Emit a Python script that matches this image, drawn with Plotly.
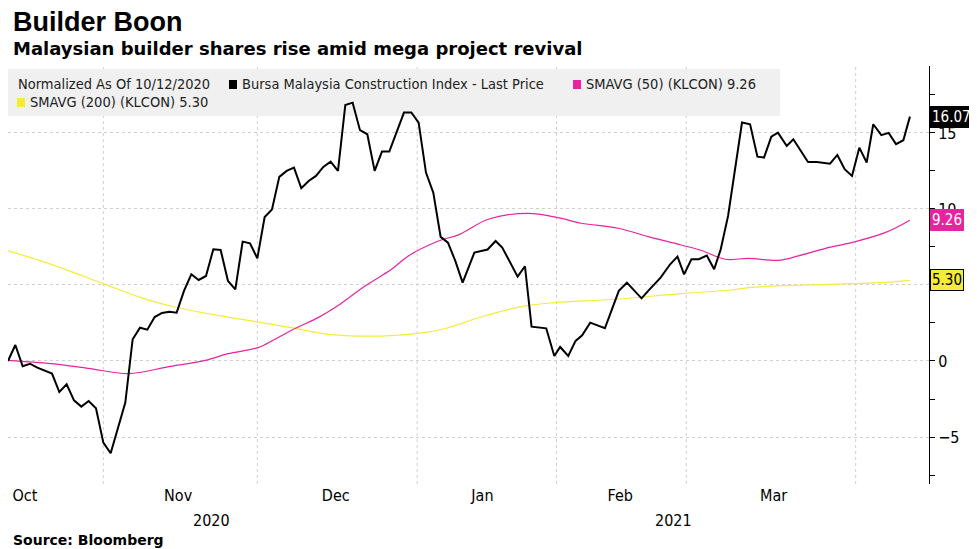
import plotly.graph_objects as go

# trading-day index, values (normalized %)
price_x = [0,1,2,3,4,6,7,8,9,10,11,12,13,14,16,17,18,19,20,21,22,23,24,25,26,27,28,29,30,31,32,33,34,35,36,37,38,39,40,41,42,43,44,45,46,47,48,49,50,51,52,54,55,56,57,58,59,60,61,62,
           63.6,65.4,66.5,67.4,69.5,70.5,71.4,73.4,74.5,75.3,76.4,77.4,78.3,79.4,81.4,83.3,84.4,86.4,87.3,89.0,90.3,91.3,92.2,93.2,94.2,95.3,96.3,97.2,98.2,100.1,101.2,102.2,103.1,104.1,105.0,106.2,107.1,109.1,110.3,112.1,113.1,114.1,115.1,116.1,117.1,118.0,119.1,120.1,121.1,122.1,123.0]
price_y = [0.00,1.05,-0.35,-0.18,-0.44,-0.83,-2.04,-1.53,-2.59,-3.00,-2.63,-3.11,-5.37,-6.07,-2.74,1.43,2.19,2.06,2.89,3.16,3.24,3.18,4.61,5.70,5.33,5.59,7.35,7.30,5.26,4.71,7.85,7.74,6.75,9.47,9.96,12.11,12.50,12.72,11.36,11.84,12.17,12.76,13.11,12.50,16.84,16.99,15.18,14.91,12.50,13.77,13.77,16.34,16.34,15.68,12.39,11.07,8.16,7.78,6.58,5.15,
           7.13,7.33,7.89,7.46,5.55,6.23,2.26,2.15,0.33,0.92,0.33,1.32,1.69,2.52,2.15,4.61,5.15,4.12,4.61,5.48,6.36,6.86,5.70,6.69,6.69,6.93,6.03,7.35,9.54,15.68,15.57,13.44,13.38,14.76,15.02,14.14,14.58,13.09,13.09,12.98,13.55,12.61,12.17,14.03,13.05,15.57,14.85,15.00,14.26,14.52,16.07]

sma50_x = [0,5.9,10.9,16.4,21.8,26.9,30.0,34.1,36.4,39.2,42.3,44.6,48.7,52.3,54.6,58.7,61.6,65.5,70.9,75.0,78.2,83.2,87.3,91.8,94.5,97.8,101.0,105.0,107.8,111.5,115.0,119.6,123.0]
sma50_y = [0.04,-0.18,-0.48,-0.83,-0.39,0.04,0.48,0.88,1.43,2.15,2.85,3.51,4.93,6.03,6.91,7.89,8.33,9.32,9.71,9.43,9.06,8.73,8.18,7.63,7.28,6.69,6.75,6.62,6.91,7.41,7.78,8.44,9.26]

sma200_x = [0,4.5,13.0,18.1,22.8,28.2,33.8,39.2,43.7,47.7,52.8,57.7,60.0,64.5,70.5,74.5,82.8,91.8,98.6,101.0,105.5,112.3,119.1,123.0]
sma200_y = [7.24,6.58,5.09,4.17,3.55,3.03,2.59,2.15,1.75,1.64,1.69,1.93,2.19,2.89,3.62,3.84,4.06,4.43,4.67,4.82,4.95,5.04,5.15,5.30]

month_pos = [2.3,23.2,44.7,64.7,83.5,104.4]
month_labels = ["Oct","Nov","Dec","Jan","Feb","Mar"]
grid_pos = [13.0,34.0,55.8,74.8,92.5,115.6]
year_pos = [27.7,90.7]
year_labels = ["2020","2021"]

FONT = "DejaVu Sans Condensed, DejaVu Sans"
TOP, BOT = 65, 483  # plot area in page px (target)
def py(y):
    return (BOT - y) / (BOT - TOP)

fig = go.Figure()
fig.add_trace(go.Scatter(x=sma200_x, y=sma200_y, mode="lines", line=dict(color="#f5eb3a", width=1.2, shape="spline")))
fig.add_trace(go.Scatter(x=sma50_x, y=sma50_y, mode="lines", line=dict(color="#e6249f", width=1.2, shape="spline")))
fig.add_trace(go.Scatter(x=price_x, y=price_y, mode="lines", line=dict(color="black", width=2)))

for g in grid_pos:
    fig.add_shape(type="line", x0=g, x1=g, y0=0, y1=1, yref="paper", layer="below",
                  line=dict(color="#d0d0d0", width=1, dash="dot"))

fig.update_layout(
    width=977, height=549, showlegend=False, plot_bgcolor="white", paper_bgcolor="white",
    margin=dict(l=0, r=56, t=58, b=73, autoexpand=False),
    font=dict(family=FONT, color="black", size=15),
    xaxis=dict(range=[0,125.6], tickvals=month_pos, ticktext=month_labels, showgrid=False,
               zeroline=False, ticks="", tickfont=dict(size=16)),
    yaxis=dict(side="right", range=[-8.09,19.4], tickvals=[-5,0,5,10,15], showgrid=True,
               gridcolor="#d0d0d0", griddash="dot", zeroline=False, showline=True, linecolor="black",
               ticks="outside", ticklen=5, tickcolor="black", tickfont=dict(size=16),
               minor=dict(tickvals=[-7.5,-2.5,2.5,7.5,12.5,17.5], ticks="outside", ticklen=5, tickcolor="black")),
)
for p, t in zip(year_pos, year_labels):
    fig.add_annotation(x=p, y=py(519), yref="paper", text=t, showarrow=False, font=dict(size=16), yanchor="middle")

ann = [
    dict(text="<b>Builder Boon</b>", y=21, size=27, family="Liberation Sans"),
    dict(text="<b>Malaysian builder shares rise amid mega project revival</b>", y=47, size=18, family="DejaVu Sans"),
    dict(text="<b>Source: Bloomberg</b>", y=539, size=14, family="DejaVu Sans"),
]
for a in ann:
    fig.add_annotation(x=3/921, y=py(a["y"]), xref="paper", yref="paper", xanchor="left", yanchor="middle",
                       text=a["text"], showarrow=False, font=dict(size=a["size"], family=a["family"]))

# legend box
fig.add_shape(type="rect", xref="paper", yref="paper", x0=0, x1=772/921, y0=py(115), y1=py(68),
              fillcolor="#f0f0f0", line=dict(width=0), layer="below")
leg = [
    ("Normalized As Of 10/12/2020", None, 8, 83),
    ("Bursa Malaysia Construction Index - Last Price", "black", 232, 83),
    ("SMAVG (50) (KLCON) 9.26", "#e6249f", 576, 83),
    ("SMAVG (200) (KLCON) 5.30", "#f5eb3a", 20, 101),
]
for txt, col, px, pyy in leg:
    fig.add_annotation(x=px/921, y=py(pyy), xref="paper", yref="paper", xanchor="left", yanchor="middle",
                       text=txt, showarrow=False, font=dict(size=14.5, family=FONT, color="#222"))
    if col:
        fig.add_shape(type="rect", xref="paper", yref="paper", x0=(px-11)/921, x1=(px-3)/921,
                      y0=py(pyy+5), y1=py(pyy-4), fillcolor=col, line=dict(width=0), layer="above")

# last value tags
for val, bg, fg in [(price_y[-1], "black", "white"), (sma50_y[-1], "#e6249f", "white"), (sma200_y[-1], "#f5eb3a", "black")]:
    fig.add_annotation(x=1, xref="paper", y=val, xanchor="left", xshift=1, text=f"{val:.2f}", showarrow=False,
                       bgcolor=bg, bordercolor="black" if bg != "#e6249f" else bg, borderwidth=1, borderpad=1,
                       font=dict(size=15, color=fg))

fig.write_html("out.html")
